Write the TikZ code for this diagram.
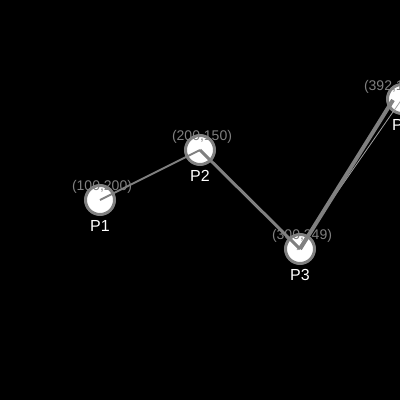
\documentclass[tikz,border=0pt]{standalone}
\usepackage{fontspec}
\setmainfont{Liberation Sans}
\begin{document}
\begin{tikzpicture}[x=1pt,y=-1pt,
  pt/.style={circle,fill=white,draw=linegray,line width=3pt,minimum size=29pt,inner sep=0pt},
  coord/.style={text=linegray,font=\fontsize{14}{15}\selectfont,inner sep=0pt},
  plabel/.style={text=white,font=\fontsize{16}{17}\selectfont,inner sep=0pt},
  conn/.style={draw=linegray}]
\definecolor{linegray}{HTML}{808080}
\definecolor{thingray}{HTML}{A0A0A0}
\useasboundingbox[fill=black] (0,0) rectangle (400,400);
\begin{scope}
\clip (0,0) rectangle (400,400);
\node[pt] (c1) at (100,200) {};
\node[pt] (c2) at (200,150) {};
\node[pt] (c3) at (300,249) {};
\node[pt] (c4) at (402,99) {};
\node[coord] (t1) at (102,187) {(100,200)};
\node[coord] (t2) at (202,137) {(200,150)};
\node[coord] (t3) at (302,236) {(300,249)};
\node[coord] (t4) at (394,87) {(392,100)};
\node[plabel] (l1) at (100,226) {P1};
\node[plabel] (l2) at (200,176) {P2};
\node[plabel] (l3) at (300,275) {P3};
\node[plabel] (l4) at (402,125) {P4};
\coordinate (a1) at (100,200);
\coordinate (a2) at (200,150);
\coordinate (a3) at (300,249);
\coordinate (a4) at (393,100);
\coordinate (b4) at (402,99);
\coordinate (b3) at (297,250);
\draw[draw=thingray,line width=0.8pt] (b4) -- (b3);
\draw[conn,line width=2pt] (a1) -- (a2);
\draw[conn,line width=3pt] (a2) -- (a3);
\draw[conn,line width=4pt] (a3) -- (a4);
\end{scope}
\end{tikzpicture}
\end{document}
